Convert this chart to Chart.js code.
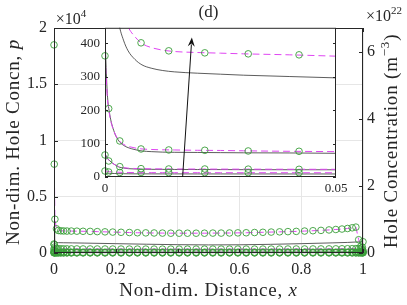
<!DOCTYPE html>
<html>
<head>
<meta charset="utf-8">
<script src="https://cdn.jsdelivr.net/npm/chart.js@4.4.1/dist/chart.umd.min.js"></script>
<style>
  html, body { margin: 0; padding: 0; background: #fff; }
  #wrap { position: relative; width: 407px; height: 305px; }
  #main { position: absolute; left: 0; top: 0; }
  #inset { position: absolute; left: 75px; top: 15px; }
</style>
</head>
<body>
<div id="wrap">
  <canvas id="main" width="407" height="305"></canvas>
  <canvas id="inset" width="290" height="185"></canvas>
</div>
<script>
// tick labels
const mainXTicks = [0, 0.2, 0.4, 0.6, 0.8, 1];
const mainYTicks = [0, 0.5, 1, 1.5, 2];
const rightTicks = [0, 2, 4, 6];
const insetXTicks = [0, 0.05];
const insetYTicks = [0, 100, 200, 300, 400];

// main plot, p in units of 1e4
const mainX = [0, 0.0008, 0.003, 0.008, 0.014, 0.022, 0.031, 0.042, 0.056,
  0.074, 0.094, 0.117, 0.14, 0.165, 0.19, 0.217, 0.244,
  0.27, 0.297, 0.324, 0.351, 0.378, 0.405, 0.432, 0.46,
  0.487, 0.514, 0.541, 0.568, 0.595, 0.622, 0.649, 0.676,
  0.703, 0.73, 0.757, 0.784, 0.811, 0.838, 0.864, 0.89,
  0.912, 0.932, 0.95, 0.965, 0.977, 0.986, 0.993, 0.998, 1];

const circA = [1.85, 0.79, 0.30, 0.215, 0.2, 0.197, 0.196, 0.195, 0.195,
  0.194, 0.193, 0.192, 0.19, 0.188, 0.186, 0.184, 0.182,
  0.18, 0.179, 0.178, 0.177, 0.176, 0.176, 0.176, 0.176,
  0.176, 0.177, 0.177, 0.178, 0.179, 0.18, 0.182, 0.184,
  0.186, 0.188, 0.19, 0.192, 0.195, 0.198, 0.201, 0.205,
  0.209, 0.213, 0.218, 0.224, 0.23, 0.118, 0.06, 0.03, 0.01];
const circB = [0.08, 0.073, 0.054, 0.04, 0.0378, 0.0372, 0.0369, 0.0366, 0.0364,
  0.0362, 0.036, 0.0358, 0.0356, 0.0354, 0.0352, 0.035, 0.0349,
  0.0348, 0.0347, 0.0346, 0.0345, 0.0345, 0.0344, 0.0344, 0.0344,
  0.0344, 0.0344, 0.0345, 0.0345, 0.0346, 0.0347, 0.0348, 0.0349,
  0.035, 0.0352, 0.0354, 0.0356, 0.0358, 0.036, 0.0363, 0.0366,
  0.037, 0.0374, 0.0378, 0.0384, 0.039, 0.04, 0.042, 0.05, 0.1];
const circC = [0.0363, 0.02, 0.0112, 0.0084, 0.0081, 0.008, 0.0078, 0.0077, 0.0076,
  0.0076, 0.0075, 0.0075, 0.0075, 0.0074, 0.0074, 0.0074, 0.0074,
  0.0073, 0.0073, 0.0073, 0.0073, 0.0073, 0.0073, 0.0073, 0.0073,
  0.0073, 0.0073, 0.0073, 0.0073, 0.0073, 0.0073, 0.0073, 0.0073,
  0.0074, 0.0074, 0.0074, 0.0075, 0.0075, 0.0075, 0.0076, 0.0076,
  0.0077, 0.0078, 0.0079, 0.008, 0.0082, 0.0085, 0.009, 0.012, 0.02];
const circD = [0.0066, 0.0048, 0.0031, 0.0025, 0.0024, 0.0024, 0.0023, 0.0023, 0.0023,
  0.0023, 0.0023, 0.0023, 0.0023, 0.0023, 0.0023, 0.0023, 0.0023,
  0.0023, 0.0023, 0.0023, 0.0023, 0.0023, 0.0023, 0.0023, 0.0023,
  0.0023, 0.0023, 0.0023, 0.0023, 0.0023, 0.0023, 0.0023, 0.0023,
  0.0023, 0.0023, 0.0023, 0.0023, 0.0023, 0.0023, 0.0023, 0.0023,
  0.0023, 0.0024, 0.0024, 0.0024, 0.0025, 0.0026, 0.0028, 0.003, 0.004];
const circE = [0.0018, 0.0016, 0.0015, 0.0014, 0.0013, 0.0013, 0.0013, 0.0013, 0.0013,
  0.0013, 0.0013, 0.0013, 0.0013, 0.0013, 0.0013, 0.0013, 0.0013,
  0.0013, 0.0013, 0.0013, 0.0013, 0.0013, 0.0013, 0.0013, 0.0013,
  0.0013, 0.0013, 0.0013, 0.0013, 0.0013, 0.0013, 0.0013, 0.0013,
  0.0013, 0.0013, 0.0013, 0.0013, 0.0013, 0.0013, 0.0013, 0.0013,
  0.0013, 0.0013, 0.0013, 0.0013, 0.0014, 0.0014, 0.0015, 0.0017, 0.002];

const lineX = [0, 0.001, 0.003, 0.008, 0.014, 0.03, 0.06, 0.1, 0.2, 0.3,
  0.4, 0.5, 0.6, 0.7, 0.8, 0.9, 0.95, 0.98, 0.995, 1];
const solidA = [0.2, 0.14, 0.11, 0.095, 0.092, 0.091, 0.09, 0.088, 0.083, 0.078,
  0.074, 0.072, 0.073, 0.077, 0.083, 0.09, 0.094, 0.098, 0.1, 0.105];
const solidB = [0.1, 0.07, 0.046, 0.0335, 0.0312, 0.0305, 0.0301, 0.0298, 0.0294, 0.029,
  0.0288, 0.0287, 0.0288, 0.029, 0.0294, 0.03, 0.0305, 0.031, 0.033, 0.036];
const solidC = [0.05, 0.018, 0.0105, 0.0078, 0.0075, 0.0073, 0.0072, 0.0072, 0.0071, 0.0071,
  0.007, 0.007, 0.007, 0.0071, 0.0071, 0.0072, 0.0074, 0.0078, 0.009, 0.012];
const solidD = [0.007, 0.0049, 0.003, 0.0023, 0.0022, 0.0022, 0.0022, 0.0021, 0.0021, 0.0021,
  0.0021, 0.0021, 0.0021, 0.0021, 0.0021, 0.0021, 0.0022, 0.0023, 0.0025, 0.003];
const solidE = [0.0012, 0.0011, 0.001, 0.001, 0.001, 0.001, 0.001, 0.001, 0.001, 0.001,
  0.001, 0.001, 0.001, 0.001, 0.001, 0.001, 0.001, 0.0011, 0.0012, 0.0014];

// inset, p not scaled
const insetLineX = [0, 0.0005, 0.001, 0.002, 0.003, 0.004, 0.005, 0.0065, 0.008,
  0.01, 0.0125, 0.015, 0.02, 0.025, 0.03, 0.04, 0.05];
const insetDashB = [800, 750, 700, 610, 540, 490, 450, 420, 400, 388, 380, 376, 373, 371, 369, 366, 362];
const insetSolidB = [900, 800, 720, 560, 460, 410, 378, 352, 336, 326, 319, 315, 311, 308, 305, 301, 297];
const insetDashC = [363, 240, 185, 135, 110, 98, 92, 87, 84, 82.5, 81.5, 81, 80, 79.5, 78.5, 77, 76];
const insetSolidC = [420, 250, 190, 135, 108, 95, 88, 82, 78, 76, 74.5, 74, 73.5, 73, 72.5, 72, 71];
const insetDashD = [66, 55, 48, 38, 31, 28, 26.5, 25.5, 25, 24.5, 24.2, 24, 23.8, 23.6, 23.5, 23.2, 23];
const insetSolidD = [70, 57, 49, 38, 30, 27, 25, 24, 23.5, 23, 22.8, 22.6, 22.4, 22.2, 22, 21.8, 21.6];
const insetDashE = [18, 17, 16, 15, 14.2, 13.8, 13.5, 13.2, 13, 13, 12.9, 12.9, 12.8, 12.8, 12.8, 12.7, 12.7];
const insetSolidE = [12, 11.5, 11, 10.5, 10, 9.8, 9.6, 9.5, 9.4, 9.4, 9.3, 9.3, 9.2, 9.2, 9.2, 9.1, 9.1];

const insetCircX = [0, 0.0008, 0.0032, 0.0078, 0.0138, 0.0216, 0.031, 0.042];
const insetCircB = [800, 720, 520, 402, 378, 372, 369, 366];
const insetCircC = [363, 205, 108, 84, 81, 80, 78, 77];
const insetCircD = [66, 48, 31, 25, 24, 24, 23.5, 23];
const insetCircE = [18, 15, 13.5, 13.5, 13, 13, 13, 12.8];

// arrow, in inset data units [x, y]
const arrowFrom = [0.0168, 0];
const arrowTo = [0.0188, 418];

const ink = '#262626';
const gridColor = '#e6e6e6';
const magenta = '#df45f2';
const green = '#3a9e3a';
const solidInk = '#333333';
const serif = "'Liberation Serif', 'Times New Roman', serif";

Chart.defaults.font.family = serif;
Chart.defaults.color = ink;
Chart.defaults.animation = false;

const fmt = v => String(Number(Number(v).toFixed(3)));
const pts = (xs, ys) => xs.map((x, i) => ({ x, y: ys[i] }));

function dashed(xs, ys, extra) {
  return Object.assign({ data: pts(xs, ys), showLine: true, borderColor: magenta, borderWidth: 1,
    borderDash: [7, 4], pointRadius: 0, tension: 0 }, extra || {});
}
function solid(xs, ys, extra) {
  return Object.assign({ data: pts(xs, ys), showLine: true, borderColor: solidInk, borderWidth: 0.8,
    pointRadius: 0, tension: 0 }, extra || {});
}
function circles(xs, ys, extra) {
  return Object.assign({ data: pts(xs, ys), showLine: false, pointRadius: 3.3, pointBorderWidth: 0.9,
    pointBorderColor: green, pointBackgroundColor: 'rgba(0,0,0,0)' }, extra || {});
}

function drawRuns(ctx, parts, x, y, spacing) {
  ctx.letterSpacing = spacing || '0px';
  let w = 0;
  parts.forEach(p => { ctx.font = p.font; w += ctx.measureText(p.t).width; });
  let cx = x - w / 2;
  parts.forEach(p => {
    ctx.font = p.font;
    ctx.fillText(p.t, cx, y + (p.dy || 0));
    cx += ctx.measureText(p.t).width;
  });
  ctx.letterSpacing = '0px';
}

function inwardTicks(ctx, a, scale, side, len) {
  scale.ticks.forEach(tk => {
    const p = Math.round(scale.getPixelForValue(tk.value)) + 0.5;
    if (side === 'bottom') { ctx.moveTo(p, a.bottom); ctx.lineTo(p, a.bottom - len); }
    if (side === 'top') { ctx.moveTo(p, a.top); ctx.lineTo(p, a.top + len); }
    if (side === 'left') { ctx.moveTo(a.left, p); ctx.lineTo(a.left + len, p); }
    if (side === 'right') { ctx.moveTo(a.right, p); ctx.lineTo(a.right - len, p); }
  });
}

const mainDecor = {
  id: 'mainDecor',
  afterDraw(chart) {
    const { ctx, chartArea: a, scales } = chart;
    ctx.save();
    ctx.strokeStyle = ink;
    ctx.lineWidth = 1;
    ctx.strokeRect(a.left + 0.5, a.top + 0.5, a.right - a.left - 1, a.bottom - a.top - 1);
    ctx.beginPath();
    inwardTicks(ctx, a, scales.x, 'bottom', 4);
    inwardTicks(ctx, a, scales.x, 'top', 4);
    inwardTicks(ctx, a, scales.y, 'left', 4);
    inwardTicks(ctx, a, scales.y2, 'right', 4);
    ctx.stroke();

    ctx.fillStyle = ink;
    ctx.textBaseline = 'alphabetic';
    ctx.textAlign = 'left';
    const f = (s, it) => (it ? 'italic ' : '') + s + 'px ' + serif;
    drawRuns(ctx, [{ t: '(d)', font: f(17) }], (a.left + a.right) / 2, 17);
    // exponent labels
    drawRuns(ctx, [{ t: '\u00d710', font: f(16) }, { t: '4', font: f(11), dy: -7 }], a.left + 17, 24);
    drawRuns(ctx, [{ t: '\u00d710', font: f(16) }, { t: '22', font: f(11), dy: -7 }], a.right + 21, 21);

    drawRuns(ctx, [{ t: 'Non-dim. Distance, ', font: f(19) }, { t: 'x', font: f(19, true) }],
      (a.left + a.right) / 2, 296, '0.8px');

    ctx.save();
    ctx.translate(19, 142);
    ctx.rotate(-Math.PI / 2);
    drawRuns(ctx, [{ t: 'Non-dim. Hole Concn, ', font: f(19) }, { t: 'p', font: f(19, true) }], 0, 0, '0.8px');
    ctx.restore();

    ctx.save();
    ctx.translate(397, 141);
    ctx.rotate(-Math.PI / 2);
    drawRuns(ctx, [{ t: 'Hole Concentration (m', font: f(19) }, { t: '\u22123', font: f(13), dy: -8 },
      { t: ')', font: f(19) }], 0, 0, '0.8px');
    ctx.restore();
    ctx.restore();
  }
};

const insetDecor = {
  id: 'insetDecor',
  beforeDraw(chart) {
    const { ctx, chartArea: a } = chart;
    ctx.save();
    ctx.fillStyle = '#fff';
    ctx.fillRect(a.left, a.top, a.right - a.left, a.bottom - a.top);
    ctx.restore();
  },
  afterDraw(chart) {
    const { ctx, chartArea: a, scales } = chart;
    ctx.save();
    ctx.strokeStyle = ink;
    ctx.lineWidth = 1;
    ctx.strokeRect(a.left + 0.5, a.top + 0.5, a.right - a.left - 1, a.bottom - a.top - 1);
    ctx.beginPath();
    inwardTicks(ctx, a, scales.y, 'left', 3);
    inwardTicks(ctx, a, scales.y, 'right', 3);
    ctx.stroke();

    // arrow
    const x0 = scales.x.getPixelForValue(arrowFrom[0]), y0 = scales.y.getPixelForValue(arrowFrom[1]);
    const x1 = scales.x.getPixelForValue(arrowTo[0]), y1 = scales.y.getPixelForValue(arrowTo[1]);
    const ang = Math.atan2(y1 - y0, x1 - x0);
    const hl = 9, hw = 3.5;
    const bx = x1 - hl * Math.cos(ang), by = y1 - hl * Math.sin(ang);
    ctx.strokeStyle = '#111';
    ctx.lineWidth = 1;
    ctx.beginPath();
    ctx.moveTo(x0, y0);
    ctx.lineTo(bx + 2 * Math.cos(ang), by + 2 * Math.sin(ang));
    ctx.stroke();
    ctx.fillStyle = '#111';
    ctx.beginPath();
    ctx.moveTo(x1, y1);
    ctx.lineTo(bx + hw * Math.sin(ang), by - hw * Math.cos(ang));
    ctx.lineTo(x1 - (hl - 3) * Math.cos(ang), y1 - (hl - 3) * Math.sin(ang));
    ctx.lineTo(bx - hw * Math.sin(ang), by + hw * Math.cos(ang));
    ctx.closePath();
    ctx.fill();
    ctx.restore();
  }
};

const setTicks = list => s => { s.ticks = list.map(v => ({ value: v })); };

new Chart(document.getElementById('main'), {
  type: 'scatter',
  data: {
    datasets: [
      circles(mainX, circA, { clip: 5 }),
      circles(mainX, circB, { clip: 5 }),
      circles(mainX, circC, { clip: 5 }),
      circles(mainX, circD, { clip: 5 }),
      circles(mainX, circE, { clip: 5 }),
      dashed(mainX, circA),
      dashed(mainX, circB),
      dashed(mainX, circC),
      dashed(mainX, circD),
      dashed(mainX, circE),
      solid(lineX, solidA),
      solid(lineX, solidB),
      solid(lineX, solidC),
      solid(lineX, solidD),
      solid(lineX, solidE)
    ]
  },
  options: {
    responsive: false,
    animation: false,
    layout: { autoPadding: false, padding: { top: 28, left: 0, right: 0, bottom: 0 } },
    plugins: { legend: { display: false }, tooltip: { enabled: false } },
    scales: {
      x: {
        type: 'linear', min: 0, max: 1,
        afterBuildTicks: setTicks(mainXTicks),
        ticks: { padding: 7, color: ink, font: { size: 16 }, callback: fmt, maxRotation: 0, autoSkip: false },
        grid: { color: gridColor, drawTicks: false, lineWidth: 1 },
        border: { display: false },
        afterFit: s => { s.height = 52; }
      },
      y: {
        position: 'left', min: 0, max: 2,
        afterBuildTicks: setTicks(mainYTicks),
        ticks: { padding: 7, color: ink, font: { size: 16 }, callback: fmt, autoSkip: false },
        grid: { color: gridColor, drawTicks: false, lineWidth: 1 },
        border: { display: false },
        afterFit: s => { s.width = 54; }
      },
      y2: {
        position: 'right', min: 0, max: 6.72,
        afterBuildTicks: setTicks(rightTicks),
        ticks: { padding: 4, color: ink, font: { size: 16 }, callback: fmt, autoSkip: false },
        grid: { display: false, drawTicks: false },
        border: { display: false },
        afterFit: s => { s.width = 44; }
      }
    }
  },
  plugins: [mainDecor]
});

new Chart(document.getElementById('inset'), {
  type: 'scatter',
  data: {
    datasets: [
      circles(insetCircX, insetCircB, { clip: { left: 5, right: 5, bottom: 5, top: 0 } }),
      circles(insetCircX, insetCircC, { clip: { left: 5, right: 5, bottom: 5, top: 0 } }),
      circles(insetCircX, insetCircD, { clip: { left: 5, right: 5, bottom: 5, top: 0 } }),
      circles(insetCircX, insetCircE, { clip: { left: 5, right: 5, bottom: 5, top: 0 } }),
      dashed(insetLineX, insetDashB, { cubicInterpolationMode: 'monotone' }),
      dashed(insetLineX, insetDashC, { cubicInterpolationMode: 'monotone' }),
      dashed(insetLineX, insetDashD, { cubicInterpolationMode: 'monotone' }),
      dashed(insetLineX, insetDashE, { cubicInterpolationMode: 'monotone' }),
      solid(insetLineX, insetSolidB, { cubicInterpolationMode: 'monotone' }),
      solid(insetLineX, insetSolidC, { cubicInterpolationMode: 'monotone' }),
      solid(insetLineX, insetSolidD, { cubicInterpolationMode: 'monotone' }),
      solid(insetLineX, insetSolidE, { cubicInterpolationMode: 'monotone' })
    ]
  },
  options: {
    responsive: false,
    animation: false,
    layout: { autoPadding: false, padding: { top: 8, left: 0, right: 29, bottom: 0 } },
    plugins: { legend: { display: false }, tooltip: { enabled: false } },
    scales: {
      x: {
        type: 'linear', min: 0, max: 0.05,
        afterBuildTicks: setTicks(insetXTicks),
        ticks: { padding: 4, color: ink, font: { size: 13 }, callback: fmt, maxRotation: 0, autoSkip: false },
        grid: { display: false, drawTicks: false },
        border: { display: false },
        afterFit: s => { s.height = 23; }
      },
      y: {
        min: 0, max: 447,
        afterBuildTicks: setTicks(insetYTicks),
        ticks: { padding: 5, color: ink, font: { size: 13 }, callback: fmt, autoSkip: false },
        grid: { display: false, drawTicks: false },
        border: { display: false },
        afterFit: s => { s.width = 30; }
      }
    }
  },
  plugins: [insetDecor]
});
</script>
</body>
</html>
